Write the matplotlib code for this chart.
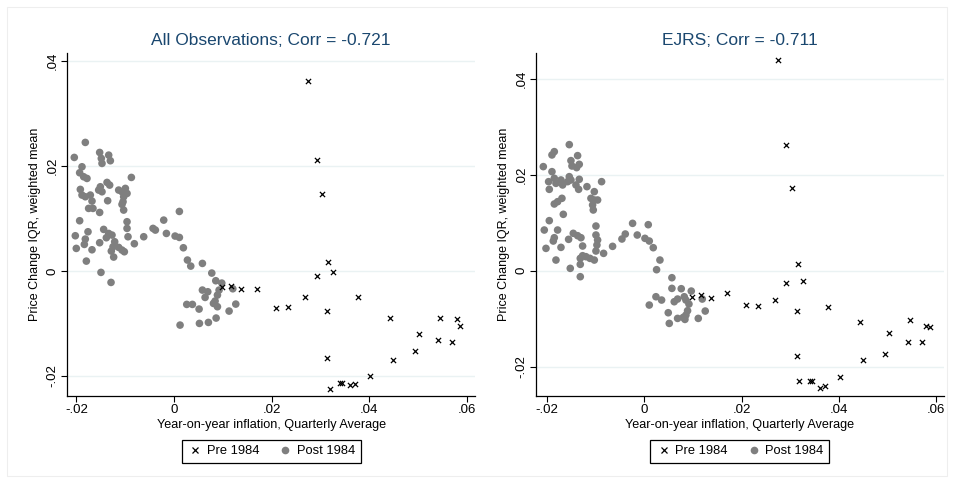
import numpy as np
import matplotlib
matplotlib.use("Agg")
import matplotlib.pyplot as plt
from matplotlib.lines import Line2D
from matplotlib.patches import Rectangle

plt.rcParams['font.family'] = ['Liberation Sans', 'DejaVu Sans']

# ---- data ----
titles = ["All Observations; Corr = -0.721", "EJRS; Corr = -0.711"]

# pre 1984: same inflation values in both panels
pre_x = [0.0274, 0.0292, 0.0303, 0.0316, 0.0326, 0.0292, 0.0099, 0.0117, 0.0137, 0.0171,
         0.0209, 0.0234, 0.0269, 0.0313, 0.0377, 0.0443, 0.0546, 0.0579, 0.0587, 0.0503,
         0.0542, 0.0570, 0.0494, 0.0449, 0.0314, 0.0402, 0.0340, 0.0345, 0.0361, 0.0371,
         0.0319]
pre_y_all = [0.0363, 0.0211, 0.0146, 0.0018, -0.0001, -0.0010, -0.0030, -0.0029, -0.0034, -0.0034,
             -0.0071, -0.0068, -0.0050, -0.0076, -0.0050, -0.0089, -0.0089, -0.0092, -0.0104, -0.0120,
             -0.0132, -0.0136, -0.0152, -0.0170, -0.0166, -0.0199, -0.0214, -0.0214, -0.0217, -0.0215,
             -0.0224]
pre_y_ejrs = [0.0438, 0.0262, 0.0172, 0.0014, -0.0022, -0.0026, -0.0054, -0.0050, -0.0057, -0.0047,
              -0.0072, -0.0073, -0.0060, -0.0084, -0.0075, -0.0106, -0.0103, -0.0115, -0.0117, -0.0129,
              -0.0149, -0.0149, -0.0173, -0.0186, -0.0177, -0.0221, -0.0230, -0.0229, -0.0245, -0.0241,
              -0.0230]

post_x_all = [-0.01819, -0.02045, -0.01525, -0.01491, -0.01477, -0.01340, -0.01306, -0.01887, -0.01935, -0.01853,
              -0.01785, -0.01921, -0.01887, -0.01819, -0.01716, -0.01682, -0.01751, -0.01662, -0.01511, -0.01545,
              -0.01374, -0.01320, -0.01477, -0.01361, -0.00875, -0.01135, -0.01067, -0.00998, -0.00964, -0.01033,
              -0.01046, -0.01067, -0.01033, -0.01525, -0.01935, -0.02024, -0.02004, -0.01819, -0.01839, -0.01764,
              -0.01682, -0.01525, -0.01443, -0.01340, -0.01388, -0.01272, -0.01217, -0.01251, -0.01286, -0.01238,
              -0.01135, -0.01067, -0.01019, -0.00964, -0.00964, -0.00944, -0.00814, -0.00622, -0.00431, -0.00383,
              -0.00212, -0.00157, -0.01798, -0.01498, -0.01292, 0.00109, 0.00021, 0.00109, 0.00191, 0.00274,
              0.00342, 0.00581, 0.00773, 0.00855, 0.00978, 0.00581, 0.00691, 0.00636, 0.00923, 0.00889,
              0.00841, 0.00807, 0.00889, 0.01204, 0.00260, 0.00376, 0.00513, 0.01265, 0.01128, 0.00123,
              0.00520, 0.00704, 0.00862]
post_y_all = [0.02451, 0.02165, 0.02260, 0.02146, 0.02051, 0.02209, 0.02102, 0.01987, 0.01873, 0.01797,
              0.01765, 0.01556, 0.01448, 0.01416, 0.01448, 0.01333, 0.01194, 0.01194, 0.01606, 0.01543,
              0.01689, 0.01638, 0.01511, 0.01340, 0.01784, 0.01543, 0.01511, 0.01575, 0.01479, 0.01416,
              0.01321, 0.01270, 0.01162, 0.01117, 0.00959, 0.00673, 0.00432, 0.00610, 0.00508, 0.00749,
              0.00406, 0.00540, 0.00794, 0.00717, 0.00635, 0.00686, 0.00559, 0.00463, 0.00381, 0.00267,
              0.00451, 0.00400, 0.00368, 0.00940, 0.00813, 0.00654, 0.00521, 0.00654, 0.00813, 0.00781,
              0.00971, 0.00717, 0.00190, -0.00025, -0.00216, 0.01136, 0.00667, 0.00641, 0.00444, 0.00210,
              0.00095, 0.00146, -0.00038, -0.00184, -0.00229, -0.00362, -0.00394, -0.00502, -0.00362, -0.00457,
              -0.00571, -0.00616, -0.00679, -0.00337, -0.00635, -0.00635, -0.00724, -0.00629, -0.00762, -0.01029,
              -0.00997, -0.00978, -0.00895]

post_x_ejrs = [-0.01541, -0.01849, -0.01897, -0.01370, -0.01507, -0.01336, -0.01390, -0.01486, -0.02075, -0.01897,
               -0.01966, -0.01952, -0.01849, -0.01815, -0.01712, -0.01678, -0.01541, -0.01575, -0.01507, -0.01404,
               -0.01349, -0.01336, -0.01178, -0.00877, -0.01027, -0.01096, -0.01027, -0.00959, -0.01062, -0.01048,
               -0.01692, -0.01781, -0.01849, -0.01664, -0.01952, -0.00993, -0.00240, -0.02055, -0.01781, -0.01849,
               -0.01870, -0.01555, -0.02020, -0.01712, -0.01459, -0.01370, -0.01301, -0.00993, -0.00959, -0.00973,
               -0.00993, -0.01267, -0.01267, -0.01199, -0.01116, -0.01027, -0.01315, -0.01315, -0.00836, -0.00651,
               -0.00459, -0.00390, -0.01815, -0.01521, -0.01315, 0.00082, -0.00144, 0.00014, 0.00103, 0.00185,
               0.00322, 0.00253, 0.00568, 0.00568, 0.00760, 0.00966, 0.00240, 0.00356, 0.00616, 0.00685,
               0.00822, 0.00856, 0.00918, 0.00890, 0.00856, 0.00801, 0.00685, 0.00836, 0.00493, 0.00514,
               0.01110, 0.01253, 0.00103, 0.01192]
post_y_ejrs = [0.02625, 0.02479, 0.02410, 0.02396, 0.02292, 0.02215, 0.02146, 0.02180, 0.02167, 0.02062,
               0.01854, 0.01694, 0.01924, 0.01819, 0.01889, 0.01785, 0.01958, 0.01854, 0.01889, 0.01785,
               0.01694, 0.01903, 0.01750, 0.01854, 0.01646, 0.01507, 0.01472, 0.01472, 0.01368, 0.01264,
               0.01507, 0.01437, 0.01389, 0.01174, 0.01042, 0.00930, 0.00986, 0.00847, 0.00847, 0.00687,
               0.00618, 0.00653, 0.00465, 0.00486, 0.00778, 0.00729, 0.00687, 0.00743, 0.00639, 0.00535,
               0.00410, 0.00514, 0.00312, 0.00292, 0.00257, 0.00222, 0.00257, 0.00132, 0.00361, 0.00507,
               0.00660, 0.00764, 0.00222, 0.00049, -0.00125, 0.00958, 0.00743, 0.00674, 0.00618, 0.00479,
               0.00222, 0.00021, -0.00146, -0.00368, -0.00375, -0.00424, -0.00542, -0.00611, -0.00646, -0.00590,
               -0.00542, -0.00611, -0.00694, -0.00833, -0.00924, -0.00972, -0.00993, -0.01014, -0.00875, -0.01097,
               -0.00993, -0.00840, -0.00715, -0.00590]

xticks = [-0.02, 0, 0.02, 0.04, 0.06]
xticklabels = ["-.02", "0", ".02", ".04", ".06"]
yticks = [-0.02, 0, 0.02, 0.04]
yticklabels = ["-.02", "0", ".02", ".04"]

title_col = '#1a476f'
post_col = '#7f7f7f'
grid_col = '#eaf2f3'

fig = plt.figure(figsize=(9.54, 4.83), dpi=100)
fig.patches.append(Rectangle((7/954, 7/483), 940/954, 469/483, transform=fig.transFigure,
                             fill=False, edgecolor='#eeeeee', lw=0.8))

panels = [
    (titles[0], pre_y_all, post_x_all, post_y_all, [0.0702, 0.180, 0.428, 0.710],
     (-0.02195, 0.06174), (-0.02381, 0.04152)),
    (titles[1], pre_y_ejrs, post_x_ejrs, post_y_ejrs, [0.5618, 0.180, 0.4274, 0.710],
     (-0.02226, 0.06154), (-0.0261, 0.0453)),
]

for title, pre_y, post_x, post_y, rect, xl, yl in panels:
    ax = fig.add_axes(rect)
    for t in yticks:
        ax.axhline(t, color=grid_col, lw=1.0, zorder=0)
    ax.scatter(post_x, post_y, s=30, color=post_col, edgecolors='none', zorder=2)
    ax.scatter(pre_x, pre_y, s=14, marker='x', color='black', linewidths=0.9, zorder=3)
    ax.set_xlim(*xl)
    ax.set_ylim(*yl)
    ax.set_xticks(xticks)
    ax.set_xticklabels(xticklabels, fontsize=9.5)
    ax.set_yticks(yticks)
    ax.set_yticklabels(yticklabels, fontsize=9.5, rotation=90, va='center')
    ax.tick_params(direction='out', length=4, width=0.8, pad=2)
    for s in ['top', 'right']:
        ax.spines[s].set_visible(False)
    for s in ['left', 'bottom']:
        ax.spines[s].set_linewidth(0.9)
    ax.set_title(title, color=title_col, fontsize=12.5, pad=6)
    ax.set_xlabel("Year-on-year inflation, Quarterly Average", fontsize=9.1, labelpad=2)
    ax.set_ylabel("Price Change IQR, weighted mean", fontsize=9.0, labelpad=4)
    handles = [Line2D([], [], marker='x', color='black', ls='none', markersize=4, mew=0.9),
               Line2D([], [], marker='o', color=post_col, ls='none', markersize=5.5, mew=0)]
    leg = ax.legend(handles, ["Pre 1984", "Post 1984"], loc='upper center',
                    bbox_to_anchor=(0.5, -0.108), ncol=2, fontsize=9.3, frameon=True,
                    fancybox=False, edgecolor='black', framealpha=1, borderpad=0.45,
                    handletextpad=0.3, columnspacing=1.4, handlelength=1.2)
    leg.get_frame().set_linewidth(0.9)

fig.savefig("out.png", dpi=100)
